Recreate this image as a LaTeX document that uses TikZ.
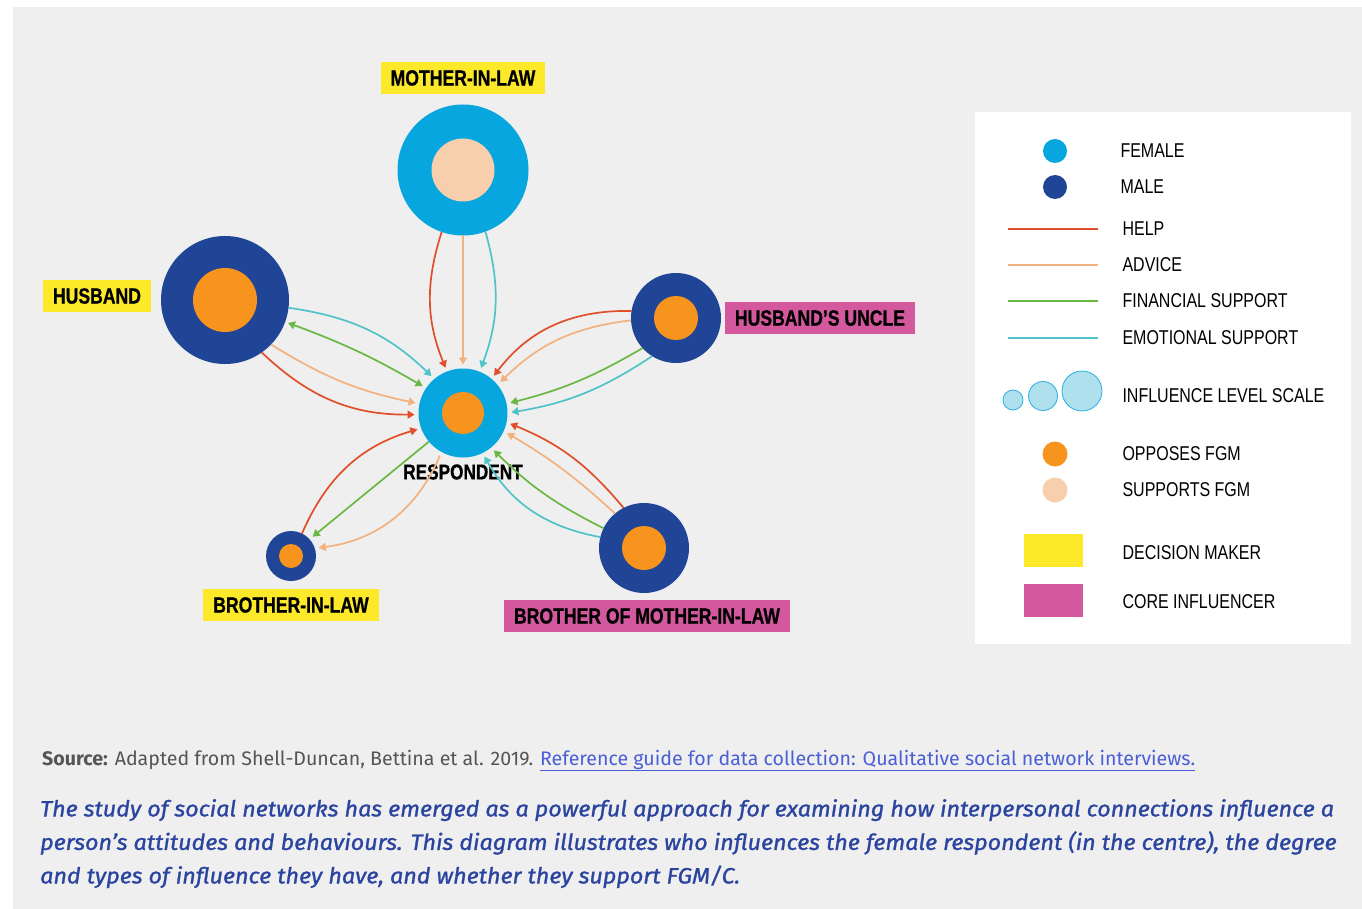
\documentclass[tikz,border=0pt]{standalone}
\usepackage{fontspec}
\setmainfont{Liberation Sans}
\newfontfamily\condfont[FakeStretch=0.8,BoldFeatures={FakeBold=0.8}]{Liberation Sans}
\newfontfamily\notefont{Fira Sans}
\newfontfamily\capfont[ItalicFeatures={FakeBold=1.2,FakeStretch=1.06}]{Fira Sans}
\usetikzlibrary{arrows.meta}

\definecolor{panel}{HTML}{EFEFEF}
\definecolor{female}{HTML}{07A6DE}
\definecolor{male}{HTML}{204496}
\definecolor{opposes}{HTML}{F7941D}
\definecolor{supports}{HTML}{F7CFAD}
\definecolor{decisionc}{HTML}{FCE92A}
\definecolor{corec}{HTML}{D4589E}
\definecolor{helpc}{HTML}{E04E2A}
\definecolor{advicec}{HTML}{F2B17E}
\definecolor{financialc}{HTML}{6AB744}
\definecolor{emotionalc}{HTML}{4FC3C8}
\definecolor{scalec}{HTML}{AEE0EE}
\definecolor{scaleline}{HTML}{2AB0E0}
\definecolor{sourcec}{HTML}{555555}
\definecolor{linkc}{HTML}{4A5FD6}
\definecolor{notec}{HTML}{2A44A0}

\tikzset{
  ring/.style={circle, inner sep=0pt, outer sep=0pt},
  core/.style={circle, inner sep=0pt, outer sep=0pt},
  tag/.style={inner xsep=10pt, minimum height=32pt,
    font=\condfont\bfseries\fontsize{22}{24}\selectfont},
  decision/.style={tag, fill=decisionc},
  influencer/.style={tag, fill=corec},
  tip/.tip={Triangle[length=7pt,width=8pt]},
  arr/.style={line width=1.7pt, -tip, shorten >=4pt},
  help/.style={arr, draw=helpc},
  advice/.style={arr, draw=advicec},
  financial/.style={arr, draw=financialc},
  emotional/.style={arr, draw=emotionalc},
  keytext/.style={anchor=west, font=\condfont\fontsize{20}{22}\selectfont},
  keyline/.style={line width=1.2pt}
}

\begin{document}
\begin{tikzpicture}[x=1pt,y=1pt]
    \useasboundingbox (0,0) rectangle (1362,-909);
    \fill[panel] (13,-7) rectangle (1362,-909);
    \fill[white] (975,-112) rectangle (1351,-644);

    % people
    \node[ring, fill=female, minimum size=89pt] (resp) at (463,-413) {};
    \node[core, fill=opposes, minimum size=42pt] at (resp) {};
    \node[font=\condfont\bfseries\fontsize{21.5}{23}\selectfont] (resplabel) at (463,-472) {RESPONDENT};

    \node[ring, fill=female, minimum size=131pt] (mil) at (463,-170) {};
    \node[core, fill=supports, minimum size=63pt] at (mil) {};
    \node[decision] (millabel) at (463,-78) {MOTHER-IN-LAW};

    \node[ring, fill=male, minimum size=128pt] (hus) at (225,-300) {};
    \node[core, fill=opposes, minimum size=64pt] at (hus) {};
    \node[decision] (huslabel) at (97,-296) {HUSBAND};

    \node[ring, fill=male, minimum size=90pt] (unc) at (676,-318) {};
    \node[core, fill=opposes, minimum size=44pt] at (unc) {};
    \node[influencer] (unclabel) at (820,-318) {HUSBAND’S UNCLE};

    \node[ring, fill=male, minimum size=50pt] (bil) at (291,-556) {};
    \node[core, fill=opposes, minimum size=24pt] at (bil) {};
    \node[decision] (billabel) at (291,-605) {BROTHER-IN-LAW};

    \node[ring, fill=male, minimum size=90pt] (bom) at (644,-548) {};
    \node[core, fill=opposes, minimum size=44pt] at (bom) {};
    \node[influencer] (bomlabel) at (647,-616) {BROTHER OF MOTHER-IN-LAW};

    % ties to the respondent
    \draw[help] (mil.251) to[bend right=20] (resp.111);
    \draw[advice] (mil.270) -- (resp.90);
    \draw[emotional] (mil.-70) to[bend left=18] (resp.68);

    \draw[emotional] (hus.-7) to[bend left=18] (resp.130);
    \draw[financial, tip-tip, shorten <=3pt] (hus.-20) to[bend left=5] (resp.146);
    \draw[advice] (hus.-44) to[bend right=10] (resp.168);
    \draw[help] (hus.-55) to[bend right=22] (resp.182);

    \draw[help] (unc.171) to[bend right=27] (resp.50);
    \draw[advice] (unc.183) to[bend right=19] (resp.39);
    \draw[financial] (unc.222) to[bend left=8] (resp.12);
    \draw[emotional] (unc.238) to[bend left=12] (resp.0);

    \draw[help] (bom.117) to[bend right=14] (resp.-12);
    \draw[advice] (bom.130) to[bend right=6] (resp.-24);
    \draw[financial] (bom.154) to[bend left=9] (resp.-51);
    \draw[emotional] (bom.166) to[bend left=25] (resp.-64);

    \draw[help] (bil.64) to[bend left=25] (resp.200);
    \draw[financial] (resp.220) -- (bil.42);
    \draw[advice, shorten <=4pt] (resp.241) to[bend left=30] (bil.18);

    % key
    \node[circle, fill=female, minimum size=24pt, inner sep=0pt] (kfemale) at (1055,-151) {};
    \node[keytext] at (1117,-151) {FEMALE};
    \node[circle, fill=male, minimum size=24pt, inner sep=0pt] (kmale) at (1055,-187) {};
    \node[keytext] at (1117,-187) {MALE};
    \coordinate (kh1) at (1008,-229); \coordinate (kh2) at (1098,-229);
    \draw[keyline, draw=helpc] (kh1) -- (kh2);
    \node[keytext] at (1119,-229) {HELP};
    \coordinate (ka1) at (1008,-265); \coordinate (ka2) at (1098,-265);
    \draw[keyline, draw=advicec] (ka1) -- (ka2);
    \node[keytext] at (1119,-265) {ADVICE};
    \coordinate (kf1) at (1008,-301); \coordinate (kf2) at (1098,-301);
    \draw[keyline, draw=financialc] (kf1) -- (kf2);
    \node[keytext] at (1119,-301) {FINANCIAL SUPPORT};
    \coordinate (ke1) at (1008,-338); \coordinate (ke2) at (1098,-338);
    \draw[keyline, draw=emotionalc] (ke1) -- (ke2);
    \node[keytext] at (1119,-338) {EMOTIONAL SUPPORT};
    \foreach \x/\y/\r in {1013/400/10, 1043/396/14.5, 1082/391/20}
        \draw[scaleline, fill=scalec, line width=0.8pt] (\x,-\y) circle (\r);
    \node[keytext] at (1119,-396) {INFLUENCE LEVEL SCALE};
    \node[circle, fill=opposes, minimum size=25pt, inner sep=0pt] (kopp) at (1055,-454) {};
    \node[keytext] at (1119,-454) {OPPOSES FGM};
    \node[circle, fill=supports, minimum size=25pt, inner sep=0pt] (ksup) at (1055,-490) {};
    \node[keytext] at (1119,-490) {SUPPORTS FGM};
    \fill[decisionc] (1024,-534) rectangle (1083,-567);
    \node[keytext] at (1119,-553) {DECISION MAKER};
    \fill[corec] (1024,-584) rectangle (1083,-617);
    \node[keytext] at (1119,-602) {CORE INFLUENCER};

    % source and note
    \node[anchor=base west, inner sep=0pt, text=sourcec, font=\notefont\fontsize{19.6}{22}\selectfont] (source) at (42,-765)
        {\textbf{Source:} Adapted from Shell-Duncan, Bettina et al. 2019. \textcolor{linkc}{\underline{Reference guide for data collection: Qualitative social network interviews.}}};
    \node[anchor=north west, inner sep=0pt, align=left, text=notec, font=\capfont\itshape\fontsize{22}{33.5}\selectfont] (note) at (40,-799)
        {The study of social networks has emerged as a powerful approach for examining how interpersonal connections influence a\\
         person’s attitudes and behaviours. This diagram illustrates who influences the female respondent (in the centre), the degree\\
         and types of influence they have, and whether they support FGM/C.};
\end{tikzpicture}
\end{document}
